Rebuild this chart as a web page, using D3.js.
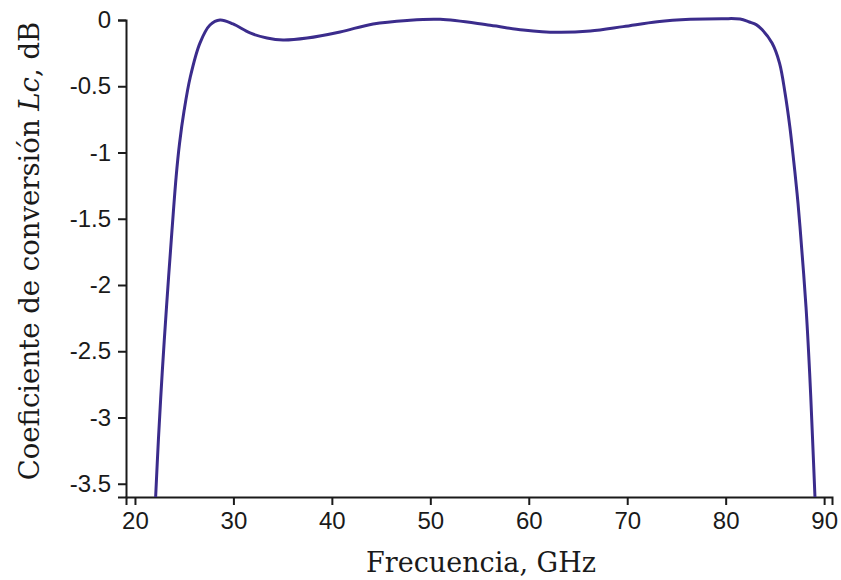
<!DOCTYPE html>
<html>
<head>
<meta charset="utf-8">
<script src="https://cdn.jsdelivr.net/npm/d3@7"></script>
<style>
  html, body { margin: 0; padding: 0; background: #fff; }
  svg { display: block; }
</style>
</head>
<body>
<div id="chart"></div>
<script>
// Data
const frequencyGHz = [22.10, 22.38, 22.77, 23.20, 23.69, 24.18, 24.53, 25.00, 25.62, 26.60, 27.62, 28.64,
  29.96, 31.69, 33.41, 35.04, 37.48, 40.83, 44.19, 47.64, 51.0, 56.08, 59.43, 62.89, 66.24, 69.59, 73.05,
  76.4, 79.76, 81.46, 82.4, 83.1, 83.69, 84.71, 85.47, 86.03, 86.52, 86.90, 87.25, 87.55, 88.16, 88.53, 88.83, 89.07];
const conversionDB = [-3.60, -3.17, -2.66, -2.17, -1.66, -1.185, -0.93, -0.68, -0.43, -0.174, -0.038, 0.0,
  -0.03, -0.098, -0.136, -0.151, -0.136, -0.09, -0.03, -0.003, 0.005, -0.04, -0.075, -0.093, -0.083, -0.05, -0.013,
  0.005, 0.01, 0.007, -0.015, -0.035, -0.072, -0.174, -0.325, -0.551, -0.808, -1.057, -1.306, -1.562, -2.166, -2.664, -3.17, -3.60];
const xTickValues = [20, 30, 40, 50, 60, 70, 80, 90];
const yTickValues = [0, -0.5, -1, -1.5, -2, -2.5, -3, -3.5];
const yTickLabels = ["0", "-0.5", "-1", "-1.5", "-2", "-2.5", "-3", "-3.5"];

const W = 841, H = 580;
const svg = d3.select("#chart").append("svg").attr("width", W).attr("height", H);

const x = d3.scaleLinear().domain([19.09, 90.8]).range([126, 832]);
const y = d3.scaleLinear().domain([-3.6, 0]).range([497, 20]);

const axisColor = "#1a1a1a";
const tickFont = "'Liberation Sans', Arial, sans-serif";

// X axis
const gx = svg.append("g").attr("transform", `translate(0,${y(-3.6)})`)
  .call(d3.axisBottom(x).tickValues(xTickValues).tickSizeOuter(0).tickSize(8).tickPadding(7).tickFormat(d3.format("d")));
// Y axis
const gy = svg.append("g").attr("transform", `translate(${x(19.09)},0)`)
  .call(d3.axisLeft(y).tickValues(yTickValues).tickSizeOuter(0).tickSize(8).tickPadding(7)
    .tickFormat((d, i) => yTickLabels[i]));

[gx, gy].forEach(g => {
  g.select(".domain").attr("stroke", axisColor).attr("stroke-width", 2);
  g.selectAll(".tick line").attr("stroke", axisColor).attr("stroke-width", 2);
  g.selectAll(".tick text").attr("fill", "#1a1a1a").style("font-family", tickFont).style("font-size", "24px");
});

// Curve
const pts = frequencyGHz.map((f, i) => [f, conversionDB[i]]);
const line = d3.line().x(d => x(d[0])).y(d => y(d[1])).curve(d3.curveCatmullRom.alpha(0.5));
svg.append("path").datum(pts).attr("d", line)
  .attr("fill", "none").attr("stroke", "#3b2c8c").attr("stroke-width", 3).attr("stroke-linejoin", "round");

// Axis titles
const serif = "'DejaVu Serif', 'Liberation Serif', serif";
svg.append("text").attr("x", 481).attr("y", 572).attr("text-anchor", "middle")
  .style("font-family", serif).style("font-size", "27px").attr("fill", "#1a1a1a")
  .text("Frecuencia, GHz");

const yt = svg.append("text").attr("transform", "translate(39,251) rotate(-90)").attr("text-anchor", "middle")
  .style("font-family", serif).style("font-size", "27.5px").attr("fill", "#1a1a1a");
yt.append("tspan").text("Coeficiente de conversión ");
yt.append("tspan").style("font-style", "italic").text("Lc");
yt.append("tspan").text(", dB");
</script>
</body>
</html>
